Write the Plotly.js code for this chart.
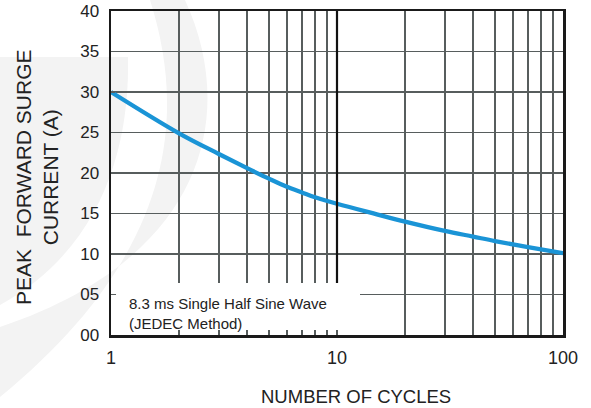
<!DOCTYPE html>
<html>
<head>
<meta charset="utf-8">
<script src="https://cdn.plot.ly/plotly-3.0.1.min.js"></script>
<style>html,body{margin:0;padding:0;background:#fff;}#chart{width:591px;height:408px;}</style>
</head>
<body>
<div id="chart"></div>
<script>
// Data
const cycles = [1, 2, 3, 4, 5, 6, 7, 8, 10, 15, 20, 30, 40, 50, 70, 100];
const surgeCurrent = [30, 24.9, 22.35, 20.6, 19.3, 18.3, 17.6, 17.0, 16.2, 14.9, 14.0, 12.85, 12.15, 11.6, 10.85, 10.1];
const xGridVals = [1,2,3,4,5,6,7,8,9,10,20,30,40,50,60,70,80,90,100];
const xTickText = ['1','','','','','','','','','10','','','','','','','','','100'];
const yTickVals = [0,5,10,15,20,25,30,35,40];
const yTickText = ['00','05','10','15','20','25','30','35','40'];
const noteText = '8.3 ms Single Half Sine Wave<br>(JEDEC Method)';
const yTitleText = 'PEAK  FORWARD SURGE<br>CURRENT (A)';
const xTitleText = 'NUMBER OF CYCLES';

// layout geometry (pixels)
const W = 591, H = 408, L = 111, R = 28, T = 11, B = 73;
const PW = W - L - R, PH = H - T - B;
function px(x){ return +((x - L) / PW).toFixed(4); }
function py(y){ return +((H - B - y) / PH).toFixed(4); }
function P(x, y){ return px(x) + ',' + py(y); }

const font = 'Liberation Sans, Arial, Helvetica, sans-serif';
const gridColor = '#575d5d';

const trace = {
  x: cycles, y: surgeCurrent, type: 'scatter', mode: 'lines',
  line: {color: '#1a94d6', width: 4.3, shape: 'spline', smoothing: 1},
  hoverinfo: 'x+y', showlegend: false
};

const layout = {
  width: W, height: H,
  margin: {l: L, r: R, t: T, b: B, pad: 0},
  paper_bgcolor: '#ffffff',
  plot_bgcolor: 'rgba(0,0,0,0)',
  font: {family: font, color: '#222'},
  showlegend: false,
  xaxis: {
    type: 'log', range: [0, 2], fixedrange: true,
    tickmode: 'array', tickvals: xGridVals, ticktext: xTickText,
    ticks: 'inside', ticklen: 4, tickwidth: 1.5, tickcolor: gridColor,
    showgrid: true, gridcolor: gridColor, gridwidth: 1.7,
    showline: true, linecolor: '#1a1a1a', linewidth: 2.5, mirror: true,
    zeroline: false,
    tickfont: {size: 18, color: '#222', family: font},
    ticklabelstandoff: 5
  },
  yaxis: {
    range: [0, 40], fixedrange: true,
    tickmode: 'array', tickvals: yTickVals, ticktext: yTickText,
    ticks: 'inside', ticklen: 4, tickwidth: 1.5, tickcolor: gridColor,
    showgrid: true, gridcolor: gridColor, gridwidth: 1.7,
    showline: true, linecolor: '#1a1a1a', linewidth: 2.5, mirror: true,
    zeroline: false,
    tickfont: {size: 17, color: '#222', family: font},
    ticklabelstandoff: 6
  },
  shapes: [
    // faint watermark
    {type: 'path', xref: 'paper', yref: 'paper', layer: 'below', line: {width: 0}, fillcolor: '#f3f3f3',
     path: 'M' + P(0,57) + ' L' + P(128,57) + ' C' + P(130,150) + ' ' + P(100,250) + ' ' + P(0,305) + ' Z'},
    {type: 'path', xref: 'paper', yref: 'paper', layer: 'below', line: {width: 0}, fillcolor: '#f3f3f3',
     path: 'M' + P(150,0) + ' C' + P(185,110) + ' ' + P(180,250) + ' ' + P(0,397) + ' L' + P(0,327) +
           ' C' + P(200,260) + ' ' + P(240,120) + ' ' + P(185,0) + ' Z'},
    // white box behind the note (kept clear of the inside ticks)
    {type: 'rect', xref: 'paper', yref: 'paper', layer: 'above', x0: px(116), x1: px(360), y0: py(330), y1: py(283),
     fillcolor: '#ffffff', line: {width: 0}},
    // dark decade line at 10
    {type: 'line', xref: 'paper', yref: 'paper', layer: 'above', x0: 0.5, x1: 0.5, y0: py(283), y1: 1,
     line: {color: '#111111', width: 2.2}}
  ],
  annotations: [
    {text: noteText, xref: 'paper', yref: 'paper', x: px(127), y: py(313), xanchor: 'left', yanchor: 'middle',
     align: 'left', showarrow: false, font: {size: 15, color: '#222', family: font}},
    {text: yTitleText, xref: 'paper', yref: 'paper', x: px(37), y: py(177), xanchor: 'center', yanchor: 'middle',
     textangle: -90, showarrow: false, font: {size: 21, color: '#222', family: font}},
    {text: xTitleText, xref: 'paper', yref: 'paper', x: px(356), y: py(396), xanchor: 'center', yanchor: 'middle',
     showarrow: false, font: {size: 18.5, color: '#222', family: font}}
  ]
};

Plotly.newPlot('chart', [trace], layout, {staticPlot: true, displayModeBar: false});
</script>
</body>
</html>
